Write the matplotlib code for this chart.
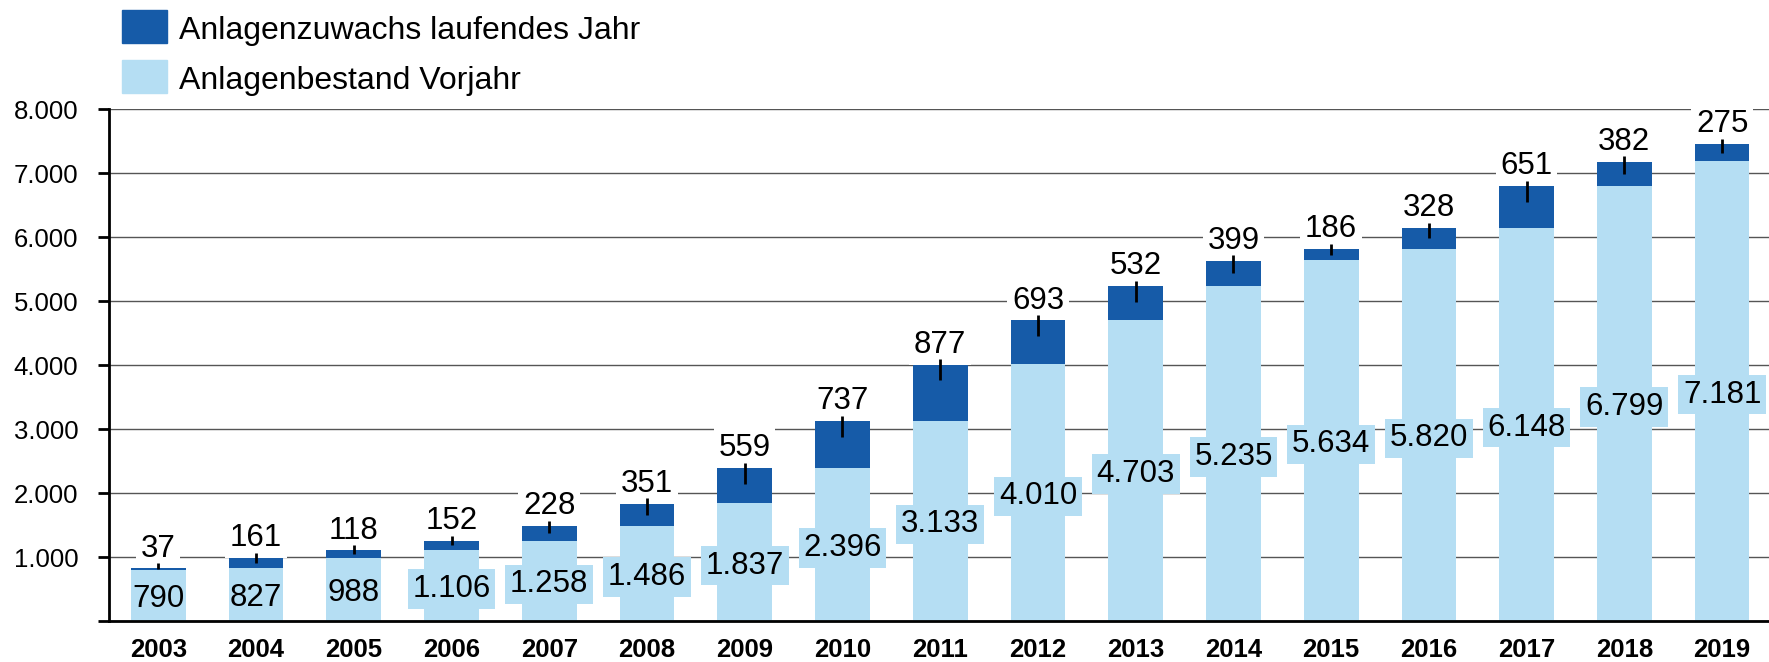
import matplotlib.pyplot as plt
from matplotlib.patches import Rectangle

# Werte aus der Grafik
jahre = ["2003", "2004", "2005", "2006", "2007", "2008", "2009", "2010", "2011",
         "2012", "2013", "2014", "2015", "2016", "2017", "2018", "2019"]
bestand = [790, 827, 988, 1106, 1258, 1486, 1837, 2396, 3133,
           4010, 4703, 5235, 5634, 5820, 6148, 6799, 7181]
zuwachs = [37, 161, 118, 152, 228, 351, 559, 737, 877,
           693, 532, 399, 186, 328, 651, 382, 275]
y_ticks = [0, 1000, 2000, 3000, 4000, 5000, 6000, 7000, 8000]

lbl_zuwachs = "Anlagenzuwachs laufendes Jahr"
lbl_bestand = "Anlagenbestand Vorjahr"

hell = "#b5def3"
dunkel = "#165ba8"

plt.rcParams["font.family"] = ["Liberation Sans", "DejaVu Sans"]


def punkte(v):
    return f"{v:,}".replace(",", ".")


fig = plt.figure(figsize=(17.69, 6.62), dpi=100)
ax = fig.add_axes([0.0615, 0.0619, 0.9385, 0.7734])

x = list(range(len(jahre)))
ax.bar(x, bestand, 0.56, color=hell, zorder=2)
ax.bar(x, zuwachs, 0.56, bottom=bestand, color=dunkel, zorder=2)

for i, (b, z) in enumerate(zip(bestand, zuwachs)):
    txt = punkte(b)
    # Kasten nur, wenn die Zahl breiter als der Balken ist
    box = dict(boxstyle="square,pad=0.15", fc=hell, ec="none") if len(txt) > 3 else None
    ax.text(i, b / 2, txt, ha="center", va="center_baseline", fontsize=22.5,
            bbox=box, zorder=4)
    top = b + z
    ax.vlines(i, top - min(z / 2, 250), top + 78, color="black", lw=2, zorder=5)
    ax.annotate(str(z), xy=(i, top), xytext=(0, 23), textcoords="offset pixels",
                ha="center", va="center_baseline", fontsize=22.5,
                bbox=dict(boxstyle="square,pad=0.15", fc="white", ec="none"),
                zorder=4)

ax.set_xlim(-0.507, 16.48)
ax.set_ylim(0, 8000)
ax.set_xticks(x)
ax.set_xticklabels(jahre, fontweight="bold")
ax.set_yticks(y_ticks)
ax.set_yticklabels(["" if v == 0 else punkte(v) for v in y_ticks])
ax.yaxis.grid(True, color="#555555", lw=1)
ax.set_axisbelow(True)

ax.tick_params(axis="y", length=8, width=2, pad=14, labelsize=18.5)
ax.tick_params(axis="x", length=0, pad=12, labelsize=18.5)
for s in ["top", "right"]:
    ax.spines[s].set_visible(False)
for s in ["left", "bottom"]:
    ax.spines[s].set_linewidth(2)
    ax.spines[s].set_color("black")

# Legende
fig.add_artist(Rectangle((0.069, 0.935), 0.0252, 0.0498,
                         transform=fig.transFigure, color=dunkel))
fig.add_artist(Rectangle((0.069, 0.8595), 0.0252, 0.0498,
                         transform=fig.transFigure, color=hell))
fig.text(0.101, 0.9406, lbl_zuwachs, va="baseline", fontsize=23)
fig.text(0.101, 0.865, lbl_bestand, va="baseline", fontsize=23)

fig.savefig("out.png", dpi=100)
